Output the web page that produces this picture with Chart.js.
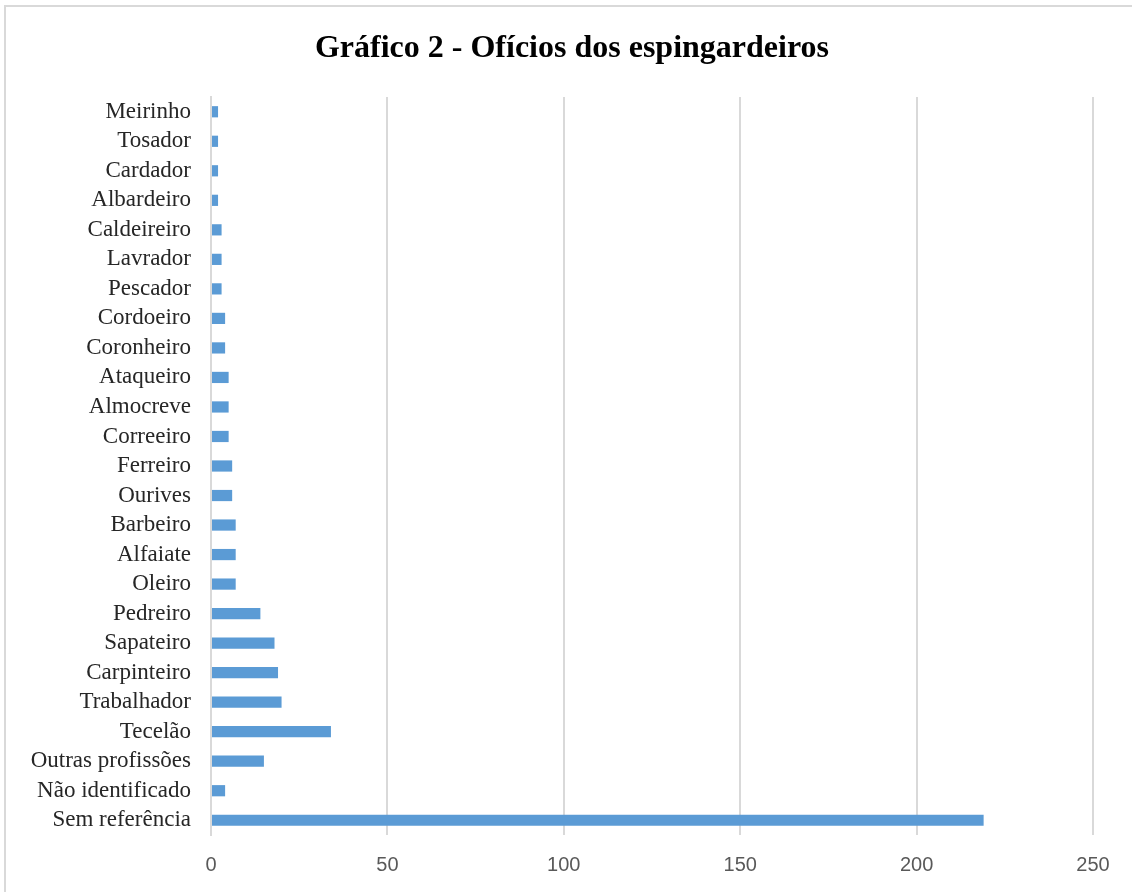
<!DOCTYPE html>
<html>
<head>
<meta charset="utf-8">
<script src="https://cdn.jsdelivr.net/npm/chart.js@4"></script>
<style>
    html, body { margin: 0; padding: 0; background: #fff; overflow: hidden; }
    #frame {
        position: absolute; left: 4px; top: 5px; width: 1200px; height: 1000px;
        border-left: 2px solid #d9d9d9; border-top: 2px solid #d9d9d9;
    }
    #wrap { position: absolute; left: 0; top: 0; width: 1132px; height: 892px; }
</style>
</head>
<body>
<div id="frame"></div>
<div id="wrap"><canvas id="oficiosChart" width="1132" height="892"></canvas></div>
<script>
const oficios = ['Meirinho', 'Tosador', 'Cardador', 'Albardeiro', 'Caldeireiro', 'Lavrador', 'Pescador',
    'Cordoeiro', 'Coronheiro', 'Ataqueiro', 'Almocreve', 'Correeiro', 'Ferreiro', 'Ourives', 'Barbeiro',
    'Alfaiate', 'Oleiro', 'Pedreiro', 'Sapateiro', 'Carpinteiro', 'Trabalhador', 'Tecelão',
    'Outras profissões', 'Não identificado', 'Sem referência'];
const espingardeiros = [2, 2, 2, 2, 3, 3, 3, 4, 4, 5, 5, 5, 6, 6, 7, 7, 7, 14, 18, 19, 20, 34, 15, 4, 219];
const xTicks = [0, 50, 100, 150, 200, 250];

const gridColor = '#d9d9d9';

new Chart(document.getElementById('oficiosChart'), {
    type: 'bar',
    data: {
        labels: oficios,
        datasets: [{
            data: espingardeiros,
            backgroundColor: '#5b9bd5',
            borderWidth: 0,
            categoryPercentage: 1,
            barPercentage: 0.38,
        }],
    },
    options: {
        indexAxis: 'y',
        responsive: false,
        animation: false,
        layout: {
            padding: { left: 12, right: 0, top: 0, bottom: 0 },
        },
        plugins: {
            legend: { display: false },
            tooltip: { enabled: false },
            title: {
                display: true,
                text: 'Gráfico 2 - Ofícios dos espingardeiros',
                color: '#000',
                font: { family: '"Liberation Serif", "Times New Roman", serif', size: 32, weight: 'bold' },
                padding: { top: 30, bottom: 28.6 },
            },
        },
        scales: {
            x: {
                min: 0,
                max: 250,
                afterBuildTicks: (scale) => {
                    scale.ticks = xTicks.map(v => ({ value: v }));
                },
                afterFit: (scale) => { scale.height = 57; },
                grid: { color: gridColor, lineWidth: 2, drawTicks: false },
                border: { display: false },
                ticks: {
                    padding: 18,
                    color: '#595959',
                    font: { family: '"Liberation Sans", Arial, sans-serif', size: 20 },
                },
            },
            y: {
                afterFit: (scale) => { scale.width = 199; },
                grid: { display: false, drawTicks: false },
                border: { display: true, color: gridColor, width: 2 },
                ticks: {
                    padding: 20,
                    color: '#262626',
                    autoSkip: false,
                    font: { family: '"Liberation Serif", "Times New Roman", serif', size: 23 },
                },
            },
            // empty right-hand axis that only reserves the margin after the 250 gridline
            yRight: {
                type: 'linear',
                position: 'right',
                afterFit: (scale) => { scale.width = 39; },
                grid: { display: false, drawTicks: false },
                border: { display: false },
                ticks: { display: false },
            },
        },
    },
});
</script>
</body>
</html>
